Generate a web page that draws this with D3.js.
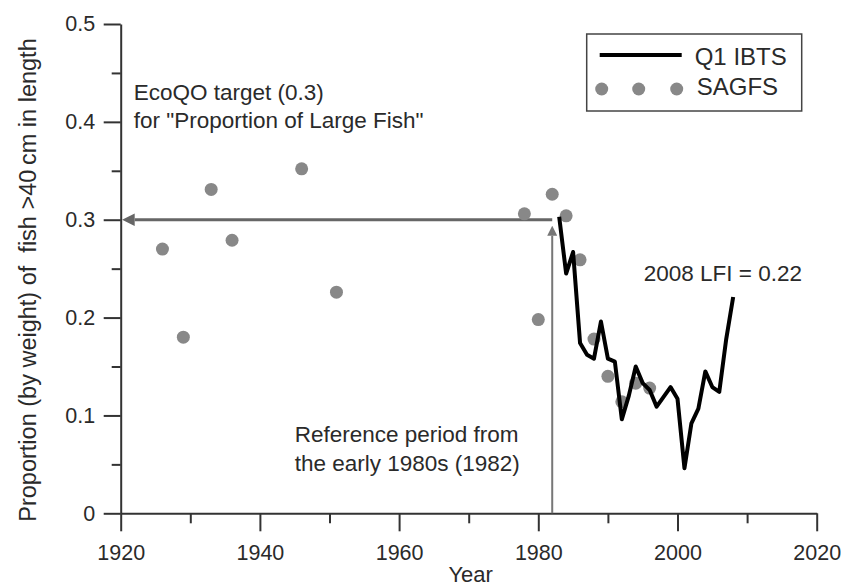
<!DOCTYPE html>
<html lang="en">
<head>
<meta charset="UTF-8">
<script src="https://d3js.org/d3.v7.min.js"></script>
<title>Proportion of Large Fish</title>
<style>
    body { margin: 0; background: #fff; }
    text { font-family: "Liberation Sans", Arial, sans-serif; fill: #2a2a2a; }
    .axis path, .axis line { stroke: #333; stroke-width: 2px; }
    .axis text { font-size: 21.5px; fill: #2a2a2a; }
    .ibts { fill: none; stroke: #000; stroke-width: 4px; stroke-linejoin: round; }
</style>
</head>
<body>
<div class="graph"></div>
<script>
    // Q1 IBTS survey (line)
    var ibtsYears = [1983, 1984, 1985, 1986, 1987, 1988, 1989, 1990, 1991, 1992, 1993, 1994, 1995,
                     1996, 1997, 1998, 1999, 2000, 2001, 2002, 2003, 2004, 2005, 2006, 2007, 2008];
    var ibtsValues = [0.303, 0.245, 0.267, 0.174, 0.162, 0.158, 0.196, 0.158, 0.155, 0.096, 0.12, 0.150, 0.133,
                      0.126, 0.109, 0.119, 0.129, 0.117, 0.046, 0.092, 0.107, 0.145, 0.129, 0.124, 0.178, 0.221];

    // SAGFS survey (dots)
    var sagfsYears = [1926, 1929, 1933, 1936, 1946, 1951, 1978, 1980, 1982, 1984, 1986, 1988, 1990, 1992, 1994, 1996];
    var sagfsValues = [0.270, 0.180, 0.331, 0.279, 0.352, 0.226, 0.306, 0.198, 0.326, 0.304, 0.259, 0.178, 0.140, 0.114, 0.133, 0.128];

    var xMajorTicks = [1920, 1940, 1960, 1980, 2000, 2020];
    var xMinorTicks = [1930, 1950, 1970, 1990, 2010];
    var yMajorTicks = [0, 0.1, 0.2, 0.3, 0.4, 0.5];
    var yMinorTicks = [0.05, 0.15, 0.25, 0.35, 0.45];

    var target = 0.3, refYear = 1982;

    var W = 845, H = 586;
    var margin = { top: 24, right: 28.3, bottom: 72.7, left: 120.7 },
        width = W - margin.left - margin.right,
        height = H - margin.top - margin.bottom;

    var x = d3.scaleLinear().domain([1920, 2020]).range([0, width]);
    var y = d3.scaleLinear().domain([0, 0.5]).range([height, 0]);

    var svg = d3.select(".graph").append("svg")
        .attr("width", W).attr("height", H)
        .append("g")
        .attr("transform", "translate(" + margin.left + "," + margin.top + ")");

    var defs = svg.append("defs");
    defs.append("marker")
        .attr("id", "arrH").attr("viewBox", "0 0 10 10")
        .attr("refX", 0).attr("refY", 5)
        .attr("markerWidth", 4.2).attr("markerHeight", 4.2)
        .attr("markerUnits", "strokeWidth").attr("orient", "auto")
        .append("path").attr("d", "M0,0L10,5L0,10z").attr("fill", "#666");
    defs.append("marker")
        .attr("id", "arrV").attr("viewBox", "0 0 10 10")
        .attr("refX", 0).attr("refY", 5)
        .attr("markerWidth", 5).attr("markerHeight", 5)
        .attr("markerUnits", "strokeWidth").attr("orient", "auto")
        .append("path").attr("d", "M0,0L10,5L0,10z").attr("fill", "#777");

    // axes
    svg.append("g").attr("class", "axis")
        .attr("transform", "translate(0," + height + ")")
        .call(d3.axisBottom(x).tickValues(xMinorTicks).tickSize(10).tickFormat(""))
        .select(".domain").remove();
    svg.append("g").attr("class", "axis")
        .attr("transform", "translate(0," + height + ")")
        .call(d3.axisBottom(x).tickValues(xMajorTicks).tickSize(18).tickSizeOuter(0).tickPadding(13).tickFormat(d3.format("d")));
    svg.append("g").attr("class", "axis")
        .call(d3.axisLeft(y).tickValues(yMinorTicks).tickSize(9).tickFormat(""))
        .select(".domain").remove();
    svg.append("g").attr("class", "axis")
        .call(d3.axisLeft(y).tickValues(yMajorTicks).tickSize(17).tickSizeOuter(0).tickPadding(8.5)
            .tickFormat(function (d) { return d === 0 ? "0" : d3.format(".1f")(d); }));

    // reference arrows
    svg.append("line")
        .attr("x1", x(refYear)).attr("y1", y(target))
        .attr("x2", x(1920) + 14).attr("y2", y(target))
        .attr("stroke", "#666").attr("stroke-width", 3)
        .attr("marker-end", "url(#arrH)");
    svg.append("line")
        .attr("x1", x(refYear)).attr("y1", y(0))
        .attr("x2", x(refYear)).attr("y2", y(target) + 16)
        .attr("stroke", "#777").attr("stroke-width", 2)
        .attr("marker-end", "url(#arrV)");

    // SAGFS dots
    svg.selectAll(".sagfs").data(sagfsYears).enter().append("circle")
        .attr("class", "sagfs")
        .attr("cx", function (d) { return x(d); })
        .attr("cy", function (d, i) { return y(sagfsValues[i]); })
        .attr("r", 6.5)
        .attr("fill", "#888");

    // Q1 IBTS line
    var line = d3.line()
        .x(function (d) { return x(d); })
        .y(function (d, i) { return y(ibtsValues[i]); });
    svg.append("path").datum(ibtsYears).attr("class", "ibts").attr("d", line);

    // annotations
    var ann = svg.append("g").style("font-size", "22.5px");
    ann.append("text").attr("x", 13).attr("y", 76).text("EcoQO target (0.3)");
    ann.append("text").attr("x", 13).attr("y", 104).text("for \"Proportion of Large Fish\"");
    ann.append("text").attr("x", 174).attr("y", 418).text("Reference period from");
    ann.append("text").attr("x", 174).attr("y", 447).text("the early 1980s (1982)");
    ann.append("text").attr("x", 523).attr("y", 257).text("2008 LFI = 0.22");

    // axis titles
    svg.append("text")
        .attr("x", x(1970) + 2).attr("y", height + 69)
        .attr("text-anchor", "middle").style("font-size", "22px")
        .text("Year");
    svg.append("text")
        .attr("transform", "rotate(-90)")
        .attr("x", -256).attr("y", -margin.left + 36)
        .attr("text-anchor", "middle").style("font-size", "23.5px")
        .style("white-space", "pre")
        .text("Proportion (by weight) of  fish >40\u2009cm in length");

    // legend
    var lg = svg.append("g").attr("transform", "translate(466,10)");
    lg.append("rect").attr("width", 215).attr("height", 77)
        .attr("fill", "#fff").attr("stroke", "#444").attr("stroke-width", 1.5);
    lg.append("line").attr("x1", 13).attr("x2", 95).attr("y1", 21).attr("y2", 21)
        .attr("stroke", "#000").attr("stroke-width", 4);
    lg.append("text").attr("x", 108).attr("y", 31).style("font-size", "24px").text("Q1 IBTS");
    lg.selectAll(".ld").data([15, 52, 90]).enter().append("circle")
        .attr("cx", function (d) { return d; }).attr("cy", 55).attr("r", 6.5).attr("fill", "#888");
    lg.append("text").attr("x", 110).attr("y", 61).style("font-size", "24px").text("SAGFS");
</script>
</body>
</html>
